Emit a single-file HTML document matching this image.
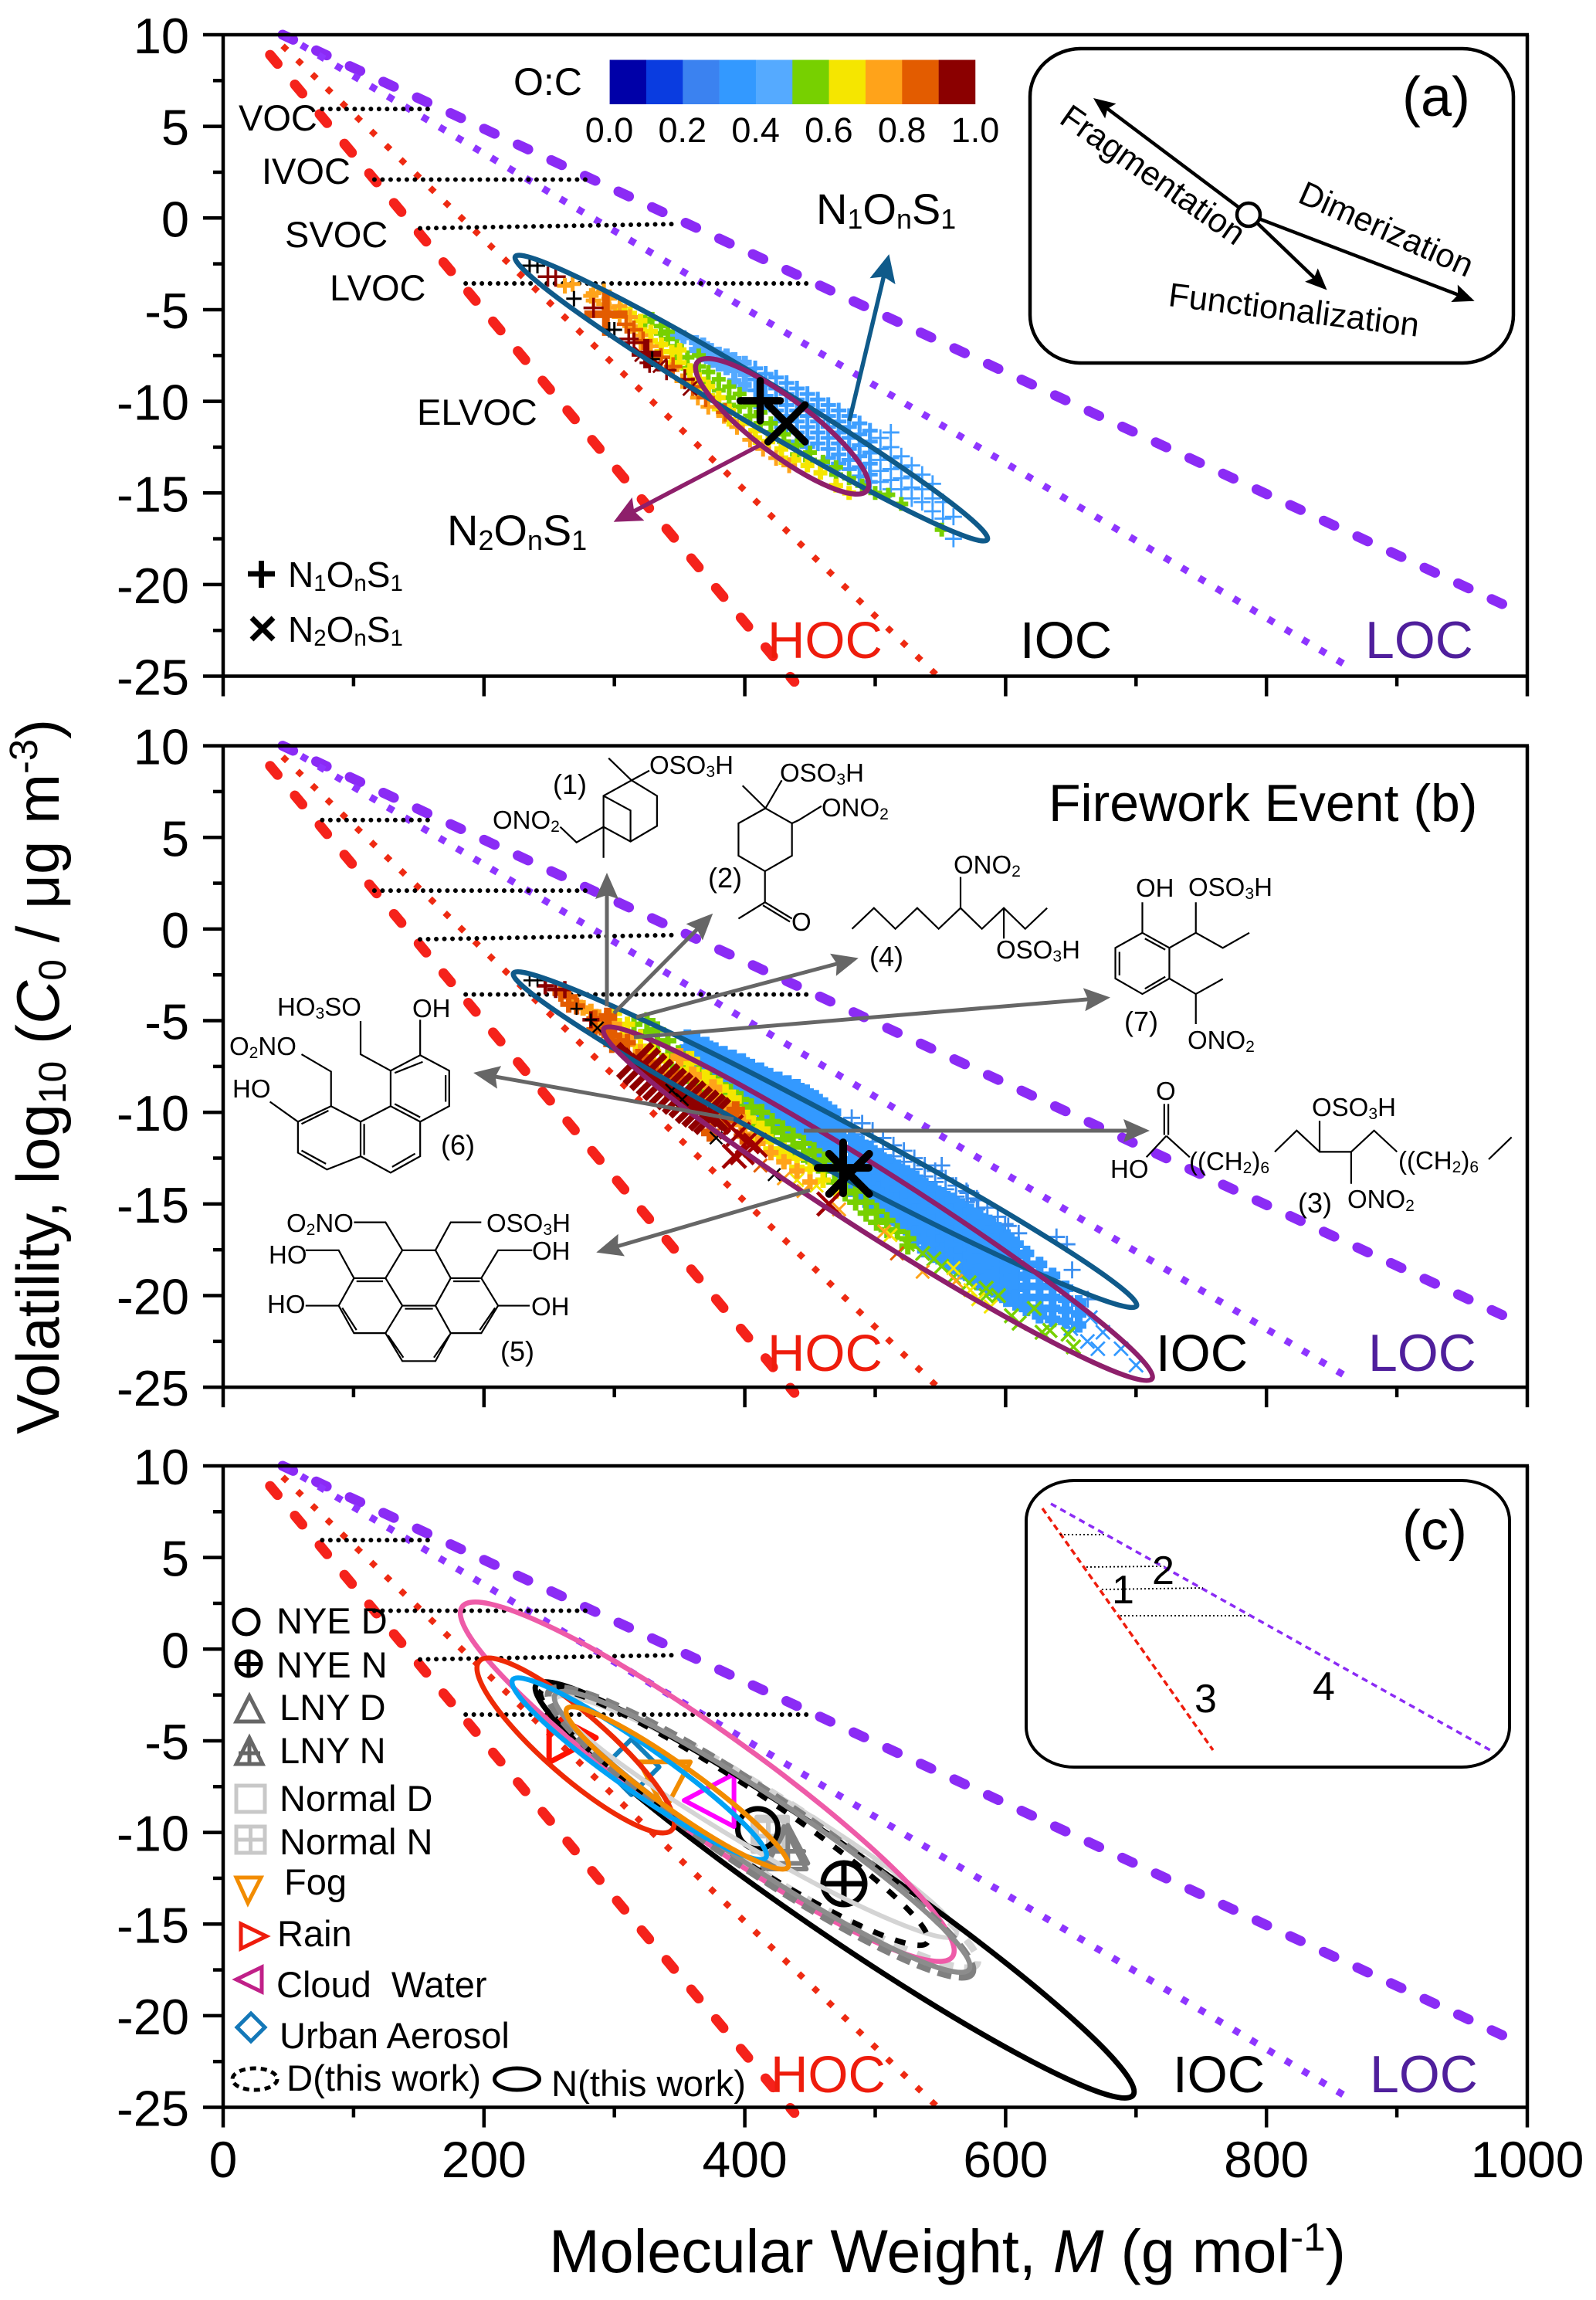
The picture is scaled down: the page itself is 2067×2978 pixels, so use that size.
<!DOCTYPE html>
<html lang="en">
<head>
<meta charset="utf-8">
<title>Volatility vs molecular weight</title>
<style>
html,body{margin:0;padding:0;background:#fff}
svg{display:block}
text{font-family:"Liberation Sans",sans-serif;fill:#000}
.sb{font-size:64%;baseline-shift:-0.18em}
.sp{font-size:65%;baseline-shift:super}
.st{font-size:33px}
.cls{font-size:47px}
.ln{fill:none;stroke:#000;stroke-width:2.2px;vector-effect:non-scaling-stroke}
</style>
</head>
<body>
<svg id="chart" xmlns="http://www.w3.org/2000/svg" width="2067" height="2978" viewBox="0 0 2067 2978">
<defs>
<marker id="h-blue" markerUnits="userSpaceOnUse" markerWidth="36" markerHeight="34" refX="30" refY="17" orient="auto"><path d="M0,0L36,17L0,34L6,17z" fill="#0f5a8a"/></marker>
<marker id="h-pur" markerUnits="userSpaceOnUse" markerWidth="36" markerHeight="34" refX="30" refY="17" orient="auto"><path d="M0,0L36,17L0,34L6,17z" fill="#8e1f6b"/></marker>
<marker id="h-gray" markerUnits="userSpaceOnUse" markerWidth="34" markerHeight="30" refX="28" refY="15" orient="auto"><path d="M0,0L34,15L0,30L5,15z" fill="#666"/></marker>
<marker id="h-blk" markerUnits="userSpaceOnUse" markerWidth="28" markerHeight="24" refX="23" refY="12" orient="auto"><path d="M0,0L28,12L0,24L5,12z" fill="#000"/></marker>
</defs>
<rect width="2067" height="2978" fill="#fff"/>
<g id="layer-marks"></g>

<!-- axis titles -->
<text transform="translate(76,1857) rotate(-90)" font-size="78">Volatility, log<tspan class="sb">10</tspan> (<tspan font-style="italic">C</tspan><tspan class="sb">0</tspan> / μg m<tspan class="sp">-3</tspan>)</text>
<text x="711" y="2942" font-size="79">Molecular Weight, <tspan font-style="italic">M</tspan> (g mol<tspan class="sp">-1</tspan>)</text>

<!-- panel a labels -->
<g>
<text x="665" y="123" font-size="50">O:C</text>
<text x="309" y="169" font-size="47">VOC</text>
<text x="339" y="238" font-size="47">IVOC</text>
<text x="369" y="320" font-size="47">SVOC</text>
<text x="427" y="389" font-size="47">LVOC</text>
<text x="540" y="550" font-size="47">ELVOC</text>
<text x="579" y="706" font-size="56">N<tspan class="sb">2</tspan>O<tspan class="sb">n</tspan>S<tspan class="sb">1</tspan></text>
<text x="1057" y="290" font-size="56">N<tspan class="sb">1</tspan>O<tspan class="sb">n</tspan>S<tspan class="sb">1</tspan></text>
<path d="M321,743H356M338.500,726V761" stroke="#000" stroke-width="7" fill="none"/>
<path d="M326,800L354,828M354,800L326,828" stroke="#000" stroke-width="7" fill="none"/>
<text x="373" y="760" font-size="46">N<tspan class="sb">1</tspan>O<tspan class="sb">n</tspan>S<tspan class="sb">1</tspan></text>
<text x="373" y="831" font-size="46">N<tspan class="sb">2</tspan>O<tspan class="sb">n</tspan>S<tspan class="sb">1</tspan></text>
<text x="994" y="852" font-size="67" style="fill:#ee1c0c">HOC</text>
<text x="1321" y="852" font-size="67">IOC</text>
<text x="1768" y="852" font-size="68" style="fill:#4f1f9c">LOC</text>
<line x1="1100" y1="545" x2="1150" y2="335" stroke="#0f5a8a" stroke-width="5.500" marker-end="url(#h-blue)"/>
<line x1="983" y1="577" x2="800" y2="673" stroke="#8e1f6b" stroke-width="5.500" marker-end="url(#h-pur)"/>
<rect x="1334" y="63" width="626" height="407" rx="66" ry="62" fill="none" stroke="#000" stroke-width="4.500"/>
<text x="1816" y="150" font-size="72">(a)</text>
<line x1="1617" y1="278" x2="1420" y2="130" stroke="#000" stroke-width="4.500" marker-end="url(#h-blk)"/>
<line x1="1617" y1="278" x2="1715" y2="372" stroke="#000" stroke-width="4.500" marker-end="url(#h-blk)"/>
<line x1="1617" y1="278" x2="1905" y2="388" stroke="#000" stroke-width="4.500" marker-end="url(#h-blk)"/>
<circle cx="1617" cy="278" r="15" fill="#fff" stroke="#000" stroke-width="4.500"/>
<text transform="translate(1370,158) rotate(35)" font-size="43.500">Fragmentation</text>
<text transform="translate(1679,261) rotate(24)" font-size="43.500">Dimerization</text>
<text transform="translate(1512,396) rotate(7)" font-size="43.500">Functionalization</text>
</g>

<!-- panel b labels -->
<g>
<text x="1358" y="1063" font-size="68">Firework Event (b)</text>
<text x="994" y="1775" font-size="67" style="fill:#ee1c0c">HOC</text>
<text x="1497" y="1775" font-size="67">IOC</text>
<text x="1772" y="1775" font-size="68" style="fill:#4f1f9c">LOC</text>
<g transform="translate(0,930) scale(0.6596,0.574)">
<path class="ln" d="M1195,90L1240,140L1275,118M1240,140L1290,175V243L1238,278L1185,245V175L1240,140M1185,175L1238,208V278M1185,245V315M1185,245L1132,280L1100,245"/>
<path class="ln" d="M1458,152L1503,203L1535,140M1503,203L1555,237V310L1502,345L1450,310V237L1503,203M1555,237L1568,230L1613,198M1502,345V415L1450,452M1502,415L1555,452M1498,422L1551,459"/>
<path class="ln" d="M1673,475L1716,428L1758,475L1801,428L1843,475L1886,428L1928,475L1971,428L2013,475L2056,428M1886,428V358M1971,428V497"/>
<path class="ln" d="M2243,484L2296,518V587L2243,622L2190,587V518ZM2248,497L2288,522M2248,610L2288,583M2198,527V580M2243,484V415M2296,518L2348,484L2401,518L2453,484M2348,484V415M2296,587L2348,622L2401,588M2348,622V690"/>
<path class="ln" d="M2286,870V940M2294,870V940M2290,942L2336,990M2290,942L2251,990M2503,978L2546,930L2591,978H2653L2698,930L2743,978M2591,978V908M2653,978V1050M2923,995L2968,945"/>
<path class="ln" d="M708,683V758L767,795M825,680V760L767,795V875L825,910L882,875V795L825,760M767,875L708,910L650,875L585,910V980L642,1018L708,988V910M708,988L767,1025L825,988V910M650,875V797L592,758M585,910L530,865M830,775L775,800M875,805V865M775,870L825,900M592,915L645,885M592,975L640,1005M715,915V985M770,1012L815,982"/>
<path class="ln" d="M695,1137H757L790,1200H855L885,1137H945M790,1200L757,1263H695L665,1200H600M855,1200L885,1263H945L978,1200H1045M695,1263L665,1325H600M945,1263L978,1325H1040M665,1325L695,1387H757L790,1325L757,1263M855,1325L885,1263M790,1325H855M978,1325L945,1387H885L855,1325M757,1387L790,1450H855L885,1387M700,1270H752M890,1270H942M795,1332H850M672,1330L700,1380M972,1330L942,1380M762,1392L792,1442M882,1392L852,1442"/>
</g>
<g>
<text font-size="36" x="716" y="1028">(1)</text>
<text class="st" x="841" y="1002">OSO<tspan class="sb">3</tspan>H</text>
<text class="st" x="638" y="1073">ONO<tspan class="sb">2</tspan></text>
<text class="st" x="1010" y="1012">OSO<tspan class="sb">3</tspan>H</text>
<text class="st" x="1064" y="1057">ONO<tspan class="sb">2</tspan></text>
<text class="st" x="1025" y="1205">O</text>
<text font-size="36" x="917" y="1149">(2)</text>
<text class="st" x="1235" y="1131">ONO<tspan class="sb">2</tspan></text>
<text class="st" x="1290" y="1241">OSO<tspan class="sb">3</tspan>H</text>
<text font-size="36" x="1126" y="1251">(4)</text>
<text class="st" x="1471" y="1161">OH</text>
<text class="st" x="1539" y="1160">OSO<tspan class="sb">3</tspan>H</text>
<text class="st" x="1538" y="1358">ONO<tspan class="sb">2</tspan></text>
<text font-size="36" x="1456" y="1335">(7)</text>
<text class="st" x="1497" y="1424">O</text>
<text class="st" x="1438" y="1525">HO</text>
<text class="st" x="1540" y="1515">((CH<tspan class="sb">2</tspan>)<tspan class="sb">6</tspan></text>
<text class="st" x="1811" y="1514">((CH<tspan class="sb">2</tspan>)<tspan class="sb">6</tspan></text>
<text class="st" x="1699" y="1445">OSO<tspan class="sb">3</tspan>H</text>
<text class="st" x="1745" y="1564">ONO<tspan class="sb">2</tspan></text>
<text font-size="36" x="1681" y="1570">(3)</text>
<text class="st" x="359" y="1315">HO<tspan class="sb">3</tspan>SO</text>
<text class="st" x="534" y="1317">OH</text>
<text class="st" x="297" y="1366">O<tspan class="sb">2</tspan>NO</text>
<text class="st" x="301" y="1421">HO</text>
<text font-size="36" x="571" y="1495">(6)</text>
<text class="st" x="371" y="1595">O<tspan class="sb">2</tspan>NO</text>
<text class="st" x="630" y="1595">OSO<tspan class="sb">3</tspan>H</text>
<text class="st" x="348" y="1636">HO</text>
<text class="st" x="689" y="1631">OH</text>
<text class="st" x="346" y="1700">HO</text>
<text class="st" x="688" y="1703">OH</text>
<text font-size="36" x="648" y="1762">(5)</text>
</g>
<g stroke="#666" stroke-width="5" fill="none">
<line x1="786" y1="1303" x2="786" y2="1136" marker-end="url(#h-gray)"/>
<line x1="795" y1="1312" x2="919" y2="1187" marker-end="url(#h-gray)"/>
<line x1="824" y1="1317" x2="1106" y2="1242" marker-end="url(#h-gray)"/>
<line x1="821" y1="1343" x2="1432" y2="1292" marker-end="url(#h-gray)"/>
<line x1="950" y1="1449" x2="619" y2="1390" marker-end="url(#h-gray)"/>
<line x1="1041" y1="1464" x2="1483" y2="1464" marker-end="url(#h-gray)"/>
<line x1="1049" y1="1541" x2="778" y2="1620" marker-end="url(#h-gray)"/>
</g>
</g>

<!-- panel c labels -->
<g>
<text x="998" y="2709" font-size="67" style="fill:#ee1c0c">HOC</text>
<text x="1519" y="2709" font-size="67">IOC</text>
<text x="1774" y="2709" font-size="68" style="fill:#4f1f9c">LOC</text>
<g>
<text class="cls" x="358" y="2115">NYE D</text>
<text class="cls" x="358" y="2172">NYE N</text>
<text class="cls" x="362" y="2227">LNY D</text>
<text class="cls" x="362" y="2283">LNY N</text>
<text class="cls" x="362" y="2345">Normal D</text>
<text class="cls" x="362" y="2401">Normal N</text>
<text class="cls" x="368" y="2453">Fog</text>
<text class="cls" x="359" y="2520">Rain</text>
<text class="cls" x="358" y="2586" xml:space="preserve">Cloud  Water</text>
<text class="cls" x="362" y="2652">Urban Aerosol</text>
<text class="cls" x="371" y="2707" textLength="252" lengthAdjust="spacingAndGlyphs">D(this work)</text>
<text class="cls" x="714" y="2714" textLength="252" lengthAdjust="spacingAndGlyphs">N(this work)</text>
<g fill="none" stroke-width="5">
<circle cx="319" cy="2100" r="16" stroke="#000"/>
<path d="M322,2138a16,16 0 1,0 .01,0zM322,2138V2171M305,2154.500H339" stroke="#000"/>
<path d="M323,2196L340,2229H306Z" stroke="#666"/>
<path d="M323,2250L340,2284H306ZM323,2250V2284M309,2270H337" stroke="#666"/>
<rect x="306" y="2312" width="37" height="34" stroke="#c8c8c8"/>
<path d="M306,2365H343V2399H306ZM324.500,2365V2399M306,2382H343" stroke="#c8c8c8"/>
<path d="M306,2431H338L321,2464Z" stroke="#f28c00"/>
<path d="M312,2491L345,2507L312,2523Z" stroke="#ee1c0c"/>
<path d="M339,2547L306,2563L339,2579Z" stroke="#c02088"/>
<path d="M325,2607L343,2625L325,2643L307,2625Z" stroke="#1478b8"/>
<ellipse cx="330" cy="2692" rx="29" ry="14" stroke="#000" stroke-dasharray="8 6"/>
<ellipse cx="669.500" cy="2692" rx="29" ry="14" stroke="#000"/>
</g>
</g>
<rect x="1329" y="1917" width="626" height="371" rx="62" ry="52" fill="none" stroke="#000" stroke-width="4"/>
<text x="1816" y="2006" font-size="72">(c)</text>
<g fill="none">
<line x1="1350" y1="1953" x2="1571" y2="2266" stroke="#ee1c0c" stroke-width="3.500" stroke-dasharray="8 5"/>
<line x1="1361" y1="1947" x2="1930" y2="2266" stroke="#8b2bf5" stroke-width="3.500" stroke-dasharray="8 6"/>
<g stroke="#000" stroke-width="1.800" stroke-dasharray="2 3">
<line x1="1373" y1="1987" x2="1433" y2="1987"/>
<line x1="1407" y1="2029" x2="1508" y2="2028"/>
<line x1="1427" y1="2058" x2="1558" y2="2056"/>
<line x1="1451" y1="2092" x2="1617" y2="2092"/>
</g>
</g>
<text x="1440" y="2076" font-size="52">1</text>
<text x="1492" y="2051" font-size="52">2</text>
<text x="1547" y="2217" font-size="52">3</text>
<text x="1700" y="2201" font-size="52">4</text>
</g>
</svg>

<script>
// axis and boundary data
const xTickValues=[0,100,200,300,400,500,600,700,800,900,1000];
const xTickLabels=['0','','200','','400','','600','','800','','1000'];
const yTickValues=[10,7.5,5,2.5,0,-2.5,-5,-7.5,-10,-12.5,-15,-17.5,-20,-22.5,-25];
const yTickLabels=['10','','5','','0','','-5','','-10','','-15','','-20','','-25'];
const hocDashM=[36,438];
const hocDashV=[8.9,-25.3];
const hocDotM=[45.6,548];
const hocDotV=[9.4,-25];
const locDashM=[45.6,991];
const locDashV=[10,-21.4];
const locDotM=[46.7,861];
const locDotV=[10,-24.4];
const vocRangeM=[76,163];
const vocRangeV=[5.95,5.95];
const ivocRangeM=[116,280];
const ivocRangeV=[2.1,2.1];
const svocRangeM=[151,345];
const svocRangeV=[-0.56,-0.33];
const lvocRangeM=[186,449];
const lvocRangeV=[-3.57,-3.57];
const ocBinColors=['#0000a8','#0a3ce0','#3b82f0','#3399ff','#55aaff','#77d000','#f5e600','#ffa31a','#e35c00','#8b0000'];
const ocTickLabels=['0.0','0.2','0.4','0.6','0.8','1.0'];

// ellipses: major-axis ends (M, logC) then semi-minor in logC units
const aBlueEllipse=[224,-2.1,586,-17.55,1.22];
const aPurpleEllipse=[363.5,-7.87,493.8,-14.86,1.52];
const bBlueEllipse=[222.6,-2.41,700.4,-20.57,1.37];
const bPurpleEllipse=[291.9,-5.44,712.3,-24.53,1.71];
const cPinkEllipse=[183.2,2.31,559.2,-16.78,2.76];
const cRedEllipse=[196.3,-0.66,344.3,-9.85,1.72];
const cLightBlueEllipse=[222,-1.67,416.2,-11.37,1.25];
const cOrangeEllipse=[263.5,-3.25,433,-11.9,1.18];
const cBlackEllipse=[240,-1.94,697.8,-24.33,2.32];
const cBlackDashEllipse=[244,-2.26,540,-16,1.77];
const cGrayEllipse=[254.6,-2.47,572,-17.47,1.9];
const cGrayDashEllipse=[250,-2.3,574,-17.7,2.1];
const cLightDashEllipse=[250,-2.5,578,-17.2,2.0];
const cLightEllipse=[255,-2.7,562,-15.6,1.6];

// scatter columns: [M, logC, logC, ...]
const aBlack=[[235,-2.6],[241,-2.6],[269,-4.4],[296,-6.1],[300,-6.1],[329,-7.7]];
const aDarkRed=[[249,-3.2],[255,-3.2],[284,-4.9],[311,-6.6],[315,-6.8],[327,-7.9],[340,-8.3],[354,-8.8]];
const aDarkRedBig=[[324.5,-7.4]];
const aDarkRedX=[[321,-7.45],[335,-8.05],[358,-9.3]];
const aDeepOrangeBig=[[293.5,-5.25]];
const aDeepOrange=[[309,-5.8],[315,-6.1],[322,-6.7],[335.7,-7.6],[345,-8.1],[360,-9.2],[370,-9.8],[385,-10.6]];
const aOrange=[[262,-3.7],[268,-3.6],[282,-4.25],[284,-4.1,-4.5],[292,-4,-4.7],[296,-4.4,-4.9],[304,-4.8,-5.4],[312,-5.4,-5.9],[320,-6.4,-6.8],[328,-7],[336,-7.6],[344,-8.3],[352,-8.9],[364,-9.8],[372,-10.3],[384,-10.8],[394,-11.4],[404,-12.1],[414,-12.6],[424,-13.1],[434,-13.5]];
const aYellow=[[304.5,-5],[312,-5.2],[320,-5.6,-6.1],[328,-6.2,-6.7],[336,-6.9,-7.3],[344,-7.3,-7.9],[350,-7.2,-7.9],[358,-8.3,-8.9],[365,-8.8,-9.3],[372,-9.2,-9.7],[380,-9.8,-10.4],[388,-10.5,-11],[398,-11.2],[408,-11.6,-12],[418,-12.2],[428,-12.6,-13.1],[438,-13.2],[448,-13.5],[458,-13.9],[470,-14.6],[480,-15]];
const aGreen=[[323.6,-5.65],[329,-5.5],[335.7,-5.9,-6.3],[341,-6.2,-6.6],[348,-7,-7.6],[356,-7.6,-8.2],[364.7,-7.5,-8.1],[372,-8.4,-9],[380,-8.8,-9.4],[388,-9.2,-9.8,-10.2],[396,-9.6,-10.3],[404,-10.2,-10.8],[412,-10.6,-11.2],[420,-11.2,-11.7],[430,-11.8,-12.2],[440,-12.4,-12.9],[450,-12.8,-13.2],[460,-13.3],[470,-13.6,-14],[480,-14.2],[490,-14.6],[500,-15],[510,-15.1],[520,-15.6],[551,-17]];
const aBlueLight=[[347.7,-6.35],[353,-6.5],[362.5,-6.77,-7.2],[368,-6.9,-7.5],[374,-7.2,-7.8],[380,-7.4,-8],[386,-7.5,-8.2],[392,-7.7,-8.3,-8.9],[400,-7.9,-8.5,-9.1]];
const aBlue=[[408,-8.2,-8.8,-9.4,-10],[416,-8.5,-9.1,-9.7,-10.3],[424,-8.7,-9.3,-9.9,-10.5,-11.1],[432,-9,-9.6,-10.2,-10.8,-11.4],[440,-9.3,-9.9,-10.5,-11.1,-11.7,-12.2],[448,-9.6,-10.2,-10.8,-11.4,-12,-12.5],[456,-9.9,-10.5,-11.1,-11.7,-12.3],[464,-10.2,-10.8,-11.4,-12,-12.6,-13.1],[472,-10.5,-11.1,-11.7,-12.3,-12.9,-13.4],[480,-10.8,-11.4,-12,-12.6,-13.2,-13.7],[488,-11.2,-11.8,-12.4,-13,-13.6,-14.1],[496,-11.6,-12.2,-12.8,-13.4,-14,-14.4]];
const aBlueTail=[[504,-12,-12.6,-13.2,-13.8,-14.4],[512,-11.7,-12.5,-13.1,-13.7,-14.3,-14.8],[520,-13,-13.6,-14.2,-14.8],[528,-13.5,-14.1,-14.7,-15.3],[536,-14,-14.8,-15.5],[544,-14.5,-15.3,-16],[552,-15.5,-16.4],[560,-16.3,-17.5]];

const bBlack=[[235,-2.8],[241,-2.8],[271,-4.35],[282,-4.95]];
const bBlackX=[[287,-5.4],[344,-8.8],[422.6,-13.4],[352,-9.3],[378,-11.4]];
const bDarkRedPlus=[[247,-3.1],[255,-3.3],[262,-3.3],[282,-4.95]];
const bDarkRedMass=[[316,-7.2],[321,-7.5],[326,-7.8],[331,-8.1],[336,-8.35],[341,-8.6],[346,-8.85],[351,-9.1],[356,-9.3],[361,-9.6],[366,-9.8],[371,-10],[375,-10.2]];
const bDarkRedX=[[389.6,-10.8],[395,-11.2],[402,-11.6],[408,-11.8],[398,-12.2],[392,-12.4],[464.5,-15]];
const bDeepOrange=[[259,-3.5],[265,-3.7,-4.1],[271,-4.2],[285,-4.9,-5.5],[292,-5.5],[298,-5.8,-6.3],[304,-6.1],[310,-6.2],[318,-7],[325,-7.3],[332,-7.8,-8.2],[340,-8.7],[348,-9.2],[356,-9.6],[398,-11.3]];
const bDeepBlocks=[[295,-4.8,-5.6],[348,-8.2],[377.6,-10.1],[393,-9.9],[373.6,-11.1],[385,-10.4],[360,-9]];
const bDeepOrangeX=[[516.7,-17.7],[412,-12.9]];
const bOrange=[[270,-4],[276,-4.3],[282,-4.5],[288,-4.8,-5.3],[294,-4.9,-5.4],[300,-5.2,-5.8],[310,-5.9,-6.3],[320,-6.7,-7.1],[330,-7.5],[340,-8.1,-8.5],[400,-11.2],[410,-11.7],[420,-12.2],[430,-12.7],[440,-13.2],[450,-13.8]];
const bOrangeBlocks=[[350,-7],[360,-8],[375.6,-8.7,-9.3],[385,-9.7],[398,-10.6]];
const bOrangeX=[[472.3,-15.3],[507,-16.5],[536.4,-18.7],[562,-19.2],[445,-14.3],[430,-13.6]];
const bYellow=[[300,-4.6,-5],[310,-5.2,-5.7],[320,-5.9,-6.4],[330,-6.7,-7.2],[340,-7.2,-7.8],[410,-11.1,-11.5],[420,-11.6,-12],[430,-12.1,-12.5],[440,-12.5,-13],[450,-13.1],[460,-13.7],[470,-14.3]];
const bYellowBlocks=[[358,-7.75,-7.2],[370,-8.2],[380,-8.7],[390,-9.3,-9.9],[401,-10.4],[412,-11],[429,-12.2]];
const bYellowX=[[511.7,-16.7],[560,-18.5],[573,-19.7],[579,-20.2],[588.6,-20.6],[455,-14],[440,-13.7]];
const bGreen=[[315,-5.2],[325,-5,-5.6],[333,-5.5,-6.2],[341,-6.1,-6.9],[349,-6.8,-7.5],[357,-7.3,-8],[365,-7.8,-8.5],[373,-8.1,-8.8],[381,-8.5,-9.2],[389,-8.9,-9.6],[397,-9.3,-10],[405,-9.7,-10.4],[413,-10,-10.7],[421,-10.5,-11.1],[429,-10.9,-11.5],[437,-11.3,-11.9],[445,-11.7,-12.3],[453,-12.1,-12.7],[461,-12.6,-13.2],[469,-13.2,-13.8],[477,-13.8,-14.4],[485,-14.3,-14.9],[493,-14.9,-15.5],[501,-15.4,-16],[509,-15.9,-16.4],[517,-16.5],[525,-16.9,-17.3]];
const bGreenX=[[524.6,-17.2],[536.4,-17.7],[545,-18],[551,-18.4],[560,-19],[572,-19.3],[585,-19.6,-20],[594.5,-20],[604.5,-21.1],[610.4,-21.5],[622,-20.7],[628,-22],[634,-21.9],[648,-22.1],[652,-22.8]];
const bBlue=[[356,-5.9,-6.5,-7.1],[363,-6.1,-6.7,-7.3,-7.8],[370,-6.3,-6.9,-7.5,-8.1],[377,-6.6,-7.2,-7.8,-8.4],[384,-6.8,-7.4,-8,-8.6],[391,-7,-7.6,-8.2,-8.8],[398,-7.2,-7.8,-8.4,-9],[405,-7.5,-8.1,-8.7,-9.3,-9.7],[412,-7.7,-8.3,-8.9,-9.5,-10],[419,-8,-8.6,-9.2,-9.8,-10.3],[426,-8.2,-8.8,-9.4,-10,-10.5],[433,-8.4,-9,-9.6,-10.2,-10.8],[440,-8.6,-9.2,-9.8,-10.4,-11],[447,-8.9,-9.5,-10.1,-10.7,-11.3],[454,-9.2,-9.8,-10.4,-11,-11.6,-12],[461,-9.6,-10.2,-10.8,-11.4,-12,-12.4],[468,-10,-10.6,-11.2,-11.8,-12.4,-12.9],[475,-10.8,-11.4,-12,-12.6,-13.2,-13.6],[482,-11.4,-12,-12.6,-13.2,-13.8,-14.2],[489,-11.7,-12.3,-12.9,-13.5,-14.1,-14.6],[496,-12,-12.6,-13.2,-13.8,-14.4,-15],[503,-12.4,-13,-13.6,-14.2,-14.8,-15.4],[510,-12.7,-13.3,-13.9,-14.5,-15.1,-15.7],[517,-13,-13.6,-14.2,-14.8,-15.4,-16],[524,-13.3,-13.9,-14.5,-15.1,-15.7,-16.3],[531,-13.6,-14.2,-14.8,-15.4,-16,-16.6,-17],[538,-14,-14.6,-15.2,-15.8,-16.4,-17,-17.5],[545,-14.2,-14.8,-15.4,-16,-16.6,-17.2,-17.8],[552,-14.5,-15.1,-15.7,-16.3,-16.9,-17.5,-18.1],[559,-14.8,-15.4,-16,-16.6,-17.2,-17.8,-18.4],[566,-15.1,-15.7,-16.3,-16.9,-17.5,-18.1,-18.7],[573,-15.4,-16,-16.6,-17.2,-17.8,-18.4,-19],[580,-15.7,-16.3,-16.9,-17.5,-18.1,-18.7,-19.3],[587,-16,-16.6,-17.2,-17.8,-18.4,-19,-19.6],[594,-16.4,-17,-17.6,-18.2,-18.8,-19.4,-19.9],[601,-16.8,-17.4,-18,-18.6,-19.2,-19.8,-20.2],[608,-17.2,-17.8,-18.4,-19,-19.6,-20.1,-20.4],[616,-17.7,-18.3,-18.9,-19.5,-20.1,-20.7],[626,-18.3,-18.9,-19.5,-20.1,-20.7,-21.1],[636,-18.9,-19.5,-20.1,-20.7,-21.3],[646,-19.6,-20.2,-20.8,-21.4],[656,-20.4,-21,-21.6]];
const bBlueThin=[[482,-10.3,-10.9],[490,-10.6,-11.2],[498,-11,-11.6],[506,-11.4,-12],[514,-11.8,-12.4],[522,-12.1,-12.7],[530,-12.5,-13.1],[538,-12.9,-13.5],[546,-13.2,-13.8],[554,-13.6,-14.2],[562,-14,-14.6],[570,-14.3,-14.9],[578,-14.7,-15.3],[586,-15.2,-15.8],[594,-15.7],[602,-16.2],[610,-16.6],[551,-12.9],[571,-14.4],[579,-14.8],[599.6,-16.1],[639,-16.8],[647,-17.2],[651,-18.6],[663,-20.2]];
const bBlueX=[[662.7,-22.5],[674.6,-22],[670.7,-22.9],[688.5,-22.9],[700,-23.8],[665,-21.2],[650,-21.8]];

// mean markers
const aMeanPlus=[411.8,-9.97];
const aMeanCross=[432,-11.2];
const bMeanPlus=[475.4,-13.03];
const bMeanCross=[480,-13.36];
const cNyeD=[410,-9.8];
const cNyeN=[476,-12.8];
const cLnyD=[430,-10.9];
const cLnyN=[433,-10.7];
const cNormalD=[421,-10];
const cNormalN=[418,-10.2];
const cFog=[338.7,-7.4];
const cRain=[267,-4.83];
const cCloud=[373.6,-8.25];
const cUrban=[313,-6.43];

const SVGNS='http://www.w3.org/2000/svg';
const root=document.getElementById('layer-marks');
const PX0=289,PXU=1.689,PYU=23.73;
const panelTops=[45,965.6,1898];
function xAxis(m){return PX0+m*PXU;}
function yAxis(v,top){return top+(10-v)*PYU;}
function mk(tag,attrs,parent){
  const el=document.createElementNS(SVGNS,tag);
  for(const k in attrs)el.setAttribute(k,attrs[k]);
  (parent||root).appendChild(el);
  return el;
}
function seg(x1,y1,x2,y2,w,name,color){
  const el=mk('line',{x1:x1,y1:y1,x2:x2,y2:y2,stroke:color||'#000','stroke-width':w});
  
  
  return el;
}
function drawBoundary(ms,vs,top,color,w,dash,cap,name){
  const el=mk('line',{x1:xAxis(ms[0]),y1:yAxis(vs[0],top),x2:xAxis(ms[1]),y2:yAxis(vs[1],top),stroke:color,'stroke-width':w,'stroke-dasharray':dash,'stroke-linecap':cap});
  
  
}
function drawAxes(top,suffix,showX){
  const bottom=top+35*PYU;
  const right=xAxis(1000);
  seg(PX0,top,right+2,top,4.5,'top-spine-'+suffix);
  seg(right,top,right,bottom,4.5,'right-spine-'+suffix);
  seg(PX0,top-2,PX0,bottom+2,4.5,'y-axis-line-'+suffix);
  seg(PX0,bottom,right+2,bottom,4.5,'x-axis-line-'+suffix);
  yTickValues.forEach(function(v,i){
    const major=yTickLabels[i]!=='';
    const y=yAxis(v,top);
    seg(PX0-(major?26:13),y,PX0,y,4.5,'y-tick-'+suffix);
    if(major){
      const t=mk('text',{x:245,y:y+24,'text-anchor':'end','font-size':65});
      t.textContent=yTickLabels[i];
      
      
    }
  });
  xTickValues.forEach(function(m,i){
    const major=xTickLabels[i]!=='';
    const x=xAxis(m);
    seg(x,bottom,x,bottom+(major?26:13),4.5,'x-tick-'+suffix);
    if(major&&showX){
      const t=mk('text',{x:x,y:2819,'text-anchor':'middle','font-size':66});
      t.textContent=xTickLabels[i];
      
      
    }
  });
}
function drawGuides(top,suffix){
  drawBoundary(hocDashM,hocDashV,top,'#f5221b',13,'15 35','round','hoc-boundary-dashed-'+suffix);
  drawBoundary(hocDotM,hocDotV,top,'#ee2a12',8,'8 18.500','butt','hoc-boundary-dotted-'+suffix);
  drawBoundary(locDashM,locDashV,top,'#8b2bf5',13,'15 33','round','loc-boundary-dashed-'+suffix);
  drawBoundary(locDotM,locDotV,top,'#8e35ff',9,'9 17','butt','loc-boundary-dotted-'+suffix);
  drawBoundary(vocRangeM,vocRangeV,top,'#000',6,'0 10.500','round','voc-range-'+suffix);
  drawBoundary(ivocRangeM,ivocRangeV,top,'#000',6,'0 10.500','round','ivoc-range-'+suffix);
  drawBoundary(svocRangeM,svocRangeV,top,'#000',6,'0 10.500','round','svoc-range-'+suffix);
  drawBoundary(lvocRangeM,lvocRangeV,top,'#000',6,'0 10.500','round','lvoc-range-'+suffix);
}
function drawEllipse(spec,top,color,w,dash,name){
  const x1=xAxis(spec[0]),y1=yAxis(spec[1],top),x2=xAxis(spec[2]),y2=yAxis(spec[3],top);
  const cx=(x1+x2)/2,cy=(y1+y2)/2,a=Math.hypot(x2-x1,y2-y1)/2,b=spec[4]*PYU;
  const deg=Math.atan2(y2-y1,x2-x1)*180/Math.PI;
  const el=mk('ellipse',{cx:cx,cy:cy,rx:a,ry:b,transform:'rotate('+deg+' '+cx+' '+cy+')',fill:'none',stroke:color,'stroke-width':w});
  if(dash)el.setAttribute('stroke-dasharray',dash);
  
  
}
function glyph(shape,x,y,r){
  if(shape==='plus')return 'M'+(x-r)+','+y+'H'+(x+r)+'M'+x+','+(y-r)+'V'+(y+r);
  if(shape==='cross')return 'M'+(x-r)+','+(y-r)+'L'+(x+r)+','+(y+r)+'M'+(x+r)+','+(y-r)+'L'+(x-r)+','+(y+r);
  const h=r*0.9;
  if(shape==='triUp')return 'M'+x+','+(y-r)+'L'+(x+r)+','+(y+h)+'H'+(x-r)+'Z';
  if(shape==='triUpCross')return 'M'+x+','+(y-r)+'L'+(x+r)+','+(y+h)+'H'+(x-r)+'ZM'+x+','+(y-r)+'V'+(y+r*1.2)+'M'+(x-r*0.8)+','+(y+r*0.3)+'H'+(x+r*0.8);
  if(shape==='triDown')return 'M'+(x-r)+','+(y-h)+'H'+(x+r)+'L'+x+','+(y+r)+'Z';
  if(shape==='triRight')return 'M'+(x-h)+','+(y-r)+'L'+(x+r)+','+y+'L'+(x-h)+','+(y+r)+'Z';
  if(shape==='triLeft')return 'M'+(x+h)+','+(y-r)+'L'+(x-r)+','+y+'L'+(x+h)+','+(y+r)+'Z';
  if(shape==='diamond')return 'M'+x+','+(y-r)+'L'+(x+r)+','+y+'L'+x+','+(y+r)+'L'+(x-r)+','+y+'Z';
  if(shape==='square')return 'M'+(x-r)+','+(y-r)+'H'+(x+r)+'V'+(y+r)+'H'+(x-r)+'Z';
  if(shape==='squarePlus')return 'M'+(x-r)+','+(y-r)+'H'+(x+r)+'V'+(y+r)+'H'+(x-r)+'ZM'+x+','+(y-r)+'V'+(y+r)+'M'+(x-r)+','+y+'H'+(x+r);
  if(shape==='circle')return 'M'+(x-r)+','+y+'a'+r+','+r+' 0 1,0 '+(2*r)+',0a'+r+','+r+' 0 1,0 '+(-2*r)+',0Z';
  return 'M'+(x-r)+','+y+'a'+r+','+r+' 0 1,0 '+(2*r)+',0a'+r+','+r+' 0 1,0 '+(-2*r)+',0ZM'+(x-r)+','+y+'H'+(x+r)+'M'+x+','+(y-r)+'V'+(y+r);
}
function drawColumns(cols,top,color,shape,r,w,name){
  cols.forEach(function(col){
    for(let i=1;i<col.length;i++){
      const el=mk('path',{d:glyph(shape,xAxis(col[0]),yAxis(col[i],top),r),fill:'none',stroke:color,'stroke-width':w});
      
      
    }
  });
}
function drawMean(pt,top,color,shape,r,w,name,join){
  const el=mk('path',{d:glyph(shape,xAxis(pt[0]),yAxis(pt[1],top),r),fill:'none',stroke:color,'stroke-width':w,'stroke-linecap':join||'round','stroke-linejoin':'round'});
  
  
}

// panels
['a','b','c'].forEach(function(s,i){
  drawGuides(panelTops[i],s);
});

// colorbar
ocBinColors.forEach(function(c,i){
  const el=mk('rect',{x:789.6+i*47.34,y:77.5,width:47.6,height:57.5,fill:c});
  
  
});
ocTickLabels.forEach(function(l,i){
  const t=mk('text',{x:789+i*94.8,y:184,'text-anchor':'middle','font-size':45});
  t.textContent=l;
  
  
});

// panel a scatter
const TA=panelTops[0];
drawColumns(aBlueTail,TA,'#3f9fff','plus',11,2.8,'point-a-oc-0-4-sparse');
drawColumns(aBlue,TA,'#3f9fff','plus',10,5,'point-a-oc-0-4');
drawColumns(aBlueLight,TA,'#55aaff','plus',9,8,'point-a-oc-0-4-light');
drawColumns(aGreen,TA,'#77d000','plus',9,6,'point-a-oc-0-5');
drawColumns(aYellow,TA,'#f5e600','plus',9,7,'point-a-oc-0-6');
drawColumns(aOrange,TA,'#ffa31a','plus',10,5,'point-a-oc-0-7');
drawColumns(aDeepOrange,TA,'#e35c00','plus',12,4.5,'point-a-oc-0-8');
drawColumns(aDeepOrangeBig,TA,'#e35c00','plus',28,10,'point-a-oc-0-8-large');
drawColumns(aDarkRed,TA,'#8b0000','plus',13,3.5,'point-a-oc-1-0');
drawColumns(aDarkRedBig,TA,'#8b0000','plus',19,8,'point-a-oc-1-0-large');
drawColumns(aDarkRedX,TA,'#8b0000','cross',9,3,'point-a-cross-oc-1-0');
drawColumns(aBlack,TA,'#000','plus',10,3,'point-a-oc-other');
drawEllipse(aBlueEllipse,TA,'#0f5a8a',6.5,null,'n1ons1-ellipse-a');
drawEllipse(aPurpleEllipse,TA,'#8e1f6b',6.5,null,'n2ons1-ellipse-a');
drawMean(aMeanPlus,TA,'#000','plus',26,9.5,'mean-n1ons1-a');
drawMean(aMeanCross,TA,'#000','cross',24,9.5,'mean-n2ons1-a');

// panel b scatter
const TB=panelTops[1];
drawColumns(bBlueThin,TB,'#3b8ff0','plus',11,2.8,'point-b-oc-0-3');
drawColumns(bBlue,TB,'#3399ff','plus',10,10,'point-b-oc-0-4');
drawColumns(bBlueX,TB,'#3399ff','cross',9,2.8,'point-b-cross-oc-0-4');
drawColumns(bGreen,TB,'#77d000','plus',11,7,'point-b-oc-0-5');
drawColumns(bGreenX,TB,'#77d000','cross',9,3.5,'point-b-cross-oc-0-5');
drawColumns(bYellow,TB,'#f5e600','plus',10,7,'point-b-oc-0-6');
drawColumns(bYellowBlocks,TB,'#f5e600','plus',13,11,'point-b-oc-0-6-dense');
drawColumns(bYellowX,TB,'#f5e600','cross',8.5,3,'point-b-cross-oc-0-6');
drawColumns(bOrange,TB,'#ffa31a','plus',10,7,'point-b-oc-0-7');
drawColumns(bOrangeBlocks,TB,'#ffa31a','plus',12,10,'point-b-oc-0-7-dense');
drawColumns(bOrangeX,TB,'#ffa31a','cross',8.5,3,'point-b-cross-oc-0-7');
drawColumns(bDeepOrange,TB,'#e35c00','plus',11,7,'point-b-oc-0-8');
drawColumns(bDeepBlocks,TB,'#e35c00','plus',12,10,'point-b-oc-0-8-dense');
drawColumns(bDeepOrangeX,TB,'#e35c00','cross',8.5,3,'point-b-cross-oc-0-8');
drawColumns(bDarkRedPlus,TB,'#8b0000','plus',11,4.5,'point-b-oc-1-0');
drawColumns(bDarkRedMass,TB,'#8f0000','cross',22,8,'point-b-cross-oc-1-0');
drawColumns(bDarkRedX,TB,'#a00000','cross',15,4.5,'point-b-cross-oc-1-0-sparse');
drawColumns(bBlack,TB,'#000','plus',8,2.5,'point-b-oc-other');
drawColumns(bBlackX,TB,'#000','cross',8,2.5,'point-b-cross-oc-other');
drawEllipse(bBlueEllipse,TB,'#0f5a8a',6.5,null,'n1ons1-ellipse-b');
drawEllipse(bPurpleEllipse,TB,'#8e1f6b',6.5,null,'n2ons1-ellipse-b');
drawMean(bMeanPlus,TB,'#000','plus',33,10,'mean-n1ons1-b');
drawMean(bMeanCross,TB,'#000','cross',26,10,'mean-n2ons1-b');

// panel c markers and ellipses
const TC=panelTops[2];
drawMean(cNormalD,TC,'#c8c8c8','square',20,6,'marker-normal-d','butt');
drawMean(cNormalN,TC,'#c8c8c8','squarePlus',20,6,'marker-normal-n','butt');
drawMean(cLnyD,TC,'#808080','triUp',29,6,'marker-lny-d');
drawMean(cLnyN,TC,'#808080','triUpCross',26,6,'marker-lny-n');
drawMean(cNyeD,TC,'#000','circle',26,7,'marker-nye-d');
drawMean(cNyeN,TC,'#000','circlePlus',27,7,'marker-nye-n');
drawMean(cUrban,TC,'#1280bc','diamond',36,6,'marker-urban-aerosol');
drawMean(cRain,TC,'#ff1200','triRight',32,7,'marker-rain');
drawMean(cFog,TC,'#f28c00','triDown',33,6,'marker-fog');
drawMean(cCloud,TC,'#ff00ff','triLeft',34,6,'marker-cloud-water');
drawEllipse(cLightEllipse,TC,'#d4d4d4',6,null,'ellipse-normal-n');
drawEllipse(cLightDashEllipse,TC,'#d4d4d4',9,'18 14','ellipse-normal-d');
drawEllipse(cBlackEllipse,TC,'#000',7,null,'ellipse-n-this-work');
drawEllipse(cPinkEllipse,TC,'#ee5ba8',6.5,null,'ellipse-pink');
drawEllipse(cRedEllipse,TC,'#ee2a06',6.5,null,'ellipse-rain');
drawEllipse(cBlackDashEllipse,TC,'#000',7,'14 16','ellipse-d-this-work');
drawEllipse(cGrayDashEllipse,TC,'#808080',9,'18 10','ellipse-lny-d');
drawEllipse(cGrayEllipse,TC,'#8c8c8c',6.5,null,'ellipse-lny-n');
drawEllipse(cLightBlueEllipse,TC,'#00a2f5',6.5,null,'ellipse-light-blue');
drawEllipse(cOrangeEllipse,TC,'#f28c00',6.5,null,'ellipse-fog');

// axes on top
drawAxes(panelTops[0],'a',false);
drawAxes(panelTops[1],'b',false);
drawAxes(panelTops[2],'c',true);
</script>
</body>
</html>
